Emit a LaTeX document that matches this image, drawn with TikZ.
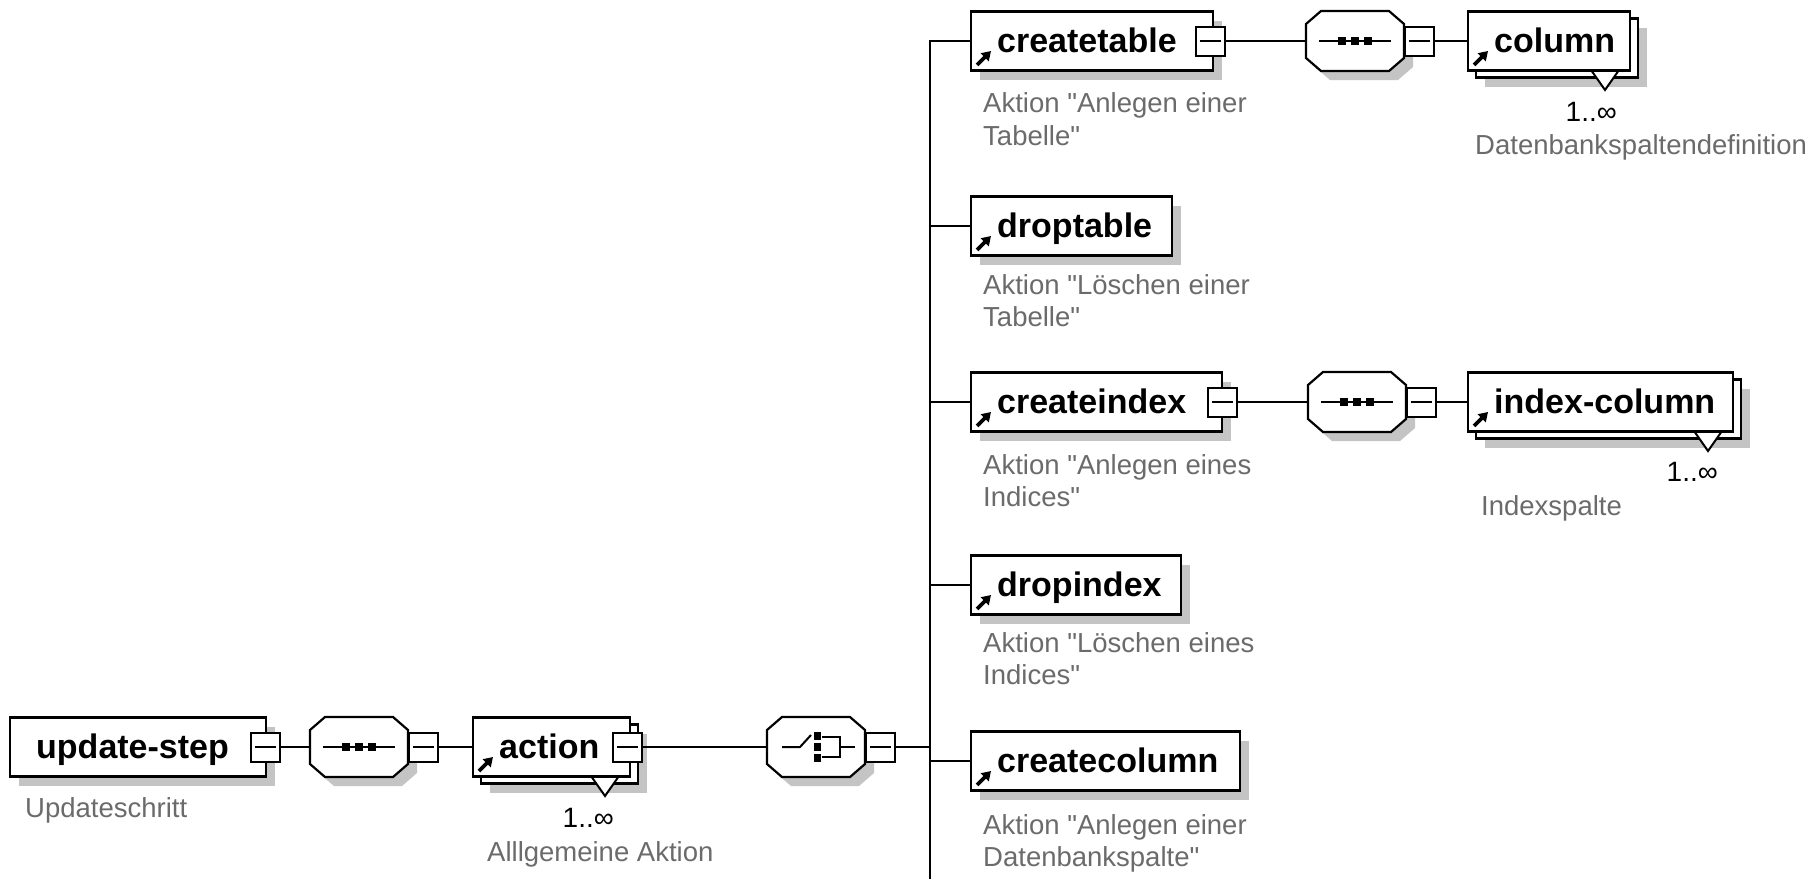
\documentclass[tikz,border=0pt]{standalone}
\usepackage{fontspec}
\setmainfont{Liberation Sans}[Ligatures=TeXOff]
\usetikzlibrary{calc,arrows.meta}
\definecolor{desc}{HTML}{6B6B6B}
\definecolor{shad}{HTML}{C4C4C4}
\newcommand\dq{\char34\relax}
\tikzset{
 elbox/.style={draw=black, line width=2.6pt, fill=white, inner sep=0pt, minimum height=59pt},
 shadowbox/.style={fill=shad, draw=none, inner sep=0pt, minimum height=59pt},
 expbox/.style={draw=black, line width=2pt, fill=white, inner sep=0pt, minimum width=29pt, minimum height=29pt},
 conn/.style={line width=2pt},
 octline/.style={draw=black, line width=2.2pt, fill=white},
 btext/.style={font=\fontsize{34}{40}\selectfont\bfseries, inner sep=0pt, anchor=base west},
 dtext/.style={font=\fontsize{27.5}{32}\selectfont, text=desc, inner sep=0pt, anchor=base west},
 ctext/.style={font=\fontsize{28}{32}\selectfont, text=black, inner sep=0pt, anchor=base east},
 refarrow/.style={line width=3.6pt, -{Triangle[length=9pt,width=11pt]}},
 octbox/.style={inner sep=0pt, minimum width=98pt, minimum height=60pt, draw=none},
}
% element box: name, left, right, cy, text
\newcommand\elemnode[5]{%
 \node[shadowbox, minimum width=#3-#2] at ({(#2+#3)/2+9},#4+9) {};
 \node[elbox, minimum width=#3-#2] (#1) at ({(#2+#3)/2},#4) {};
 \draw[refarrow] (#2+6,#4+24) -- (#2+20,#4+10);
 \node[btext] (#1-t) at (#2+26,#4+11) {#5};
}
% stacked (multiple) element box
\newcommand\multinode[5]{%
 \node[shadowbox, minimum width=#3-#2] at ({(#2+#3)/2+17},#4+16) {};
 \node[elbox, minimum width=#3-#2] (#1-back) at ({(#2+#3)/2+8},#4+7) {};
 \fill[white] (#3-39,#4+29) -- (#3-25,#4+49) -- (#3-11,#4+29) -- cycle;
 \draw[conn] (#3-39,#4+29) -- (#3-25,#4+49) -- (#3-11,#4+29);
 \node[elbox, minimum width=#3-#2] (#1) at ({(#2+#3)/2},#4) {};
 \draw[refarrow] (#2+6,#4+24) -- (#2+20,#4+10);
 \node[btext] (#1-t) at (#2+26,#4+11) {#5};
}
% expander: name, cx, cy
\newcommand\expnode[3]{%
 \node[expbox] (#1) at (#2,#3) {};
 \draw[conn] ($(#1.west)+(5,0)$) -- ($(#1.east)+(-5,0)$);
}
% octagon: name, cx, cy
\newcommand\octnode[3]{%
 \node[octbox] (#1) at (#2,#3) {};
 \fill[shad] (#2-34+9,#3-30+9) -- (#2+34+9,#3-30+9) -- (#2+49+9,#3-17+9) -- (#2+49+9,#3+17+9)
   -- (#2+34+9,#3+30+9) -- (#2-34+9,#3+30+9) -- (#2-49+9,#3+17+9) -- (#2-49+9,#3-17+9) -- cycle;
 \path[octline] (#2-34,#3-30) -- (#2+34,#3-30) -- (#2+49,#3-17) -- (#2+49,#3+17)
   -- (#2+34,#3+30) -- (#2-34,#3+30) -- (#2-49,#3+17) -- (#2-49,#3-17) -- cycle;
}
% sequence icon
\newcommand\seqicon[2]{%
 \draw[conn] (#1-36,#2) -- (#1+36,#2);
 \fill (#1-17,#2-4) rectangle (#1-9,#2+4);
 \fill (#1-4,#2-4) rectangle (#1+4,#2+4);
 \fill (#1+9,#2-4) rectangle (#1+17,#2+4);
}
\begin{document}
\begin{tikzpicture}[x=1pt,y=-1pt]
\fill[white] (0,0) rectangle (1817,878);
\useasboundingbox (0,0) rectangle (1817,878);

% ---------- main row ----------
\node[shadowbox, minimum width=256] at (147,756) {};
\node[elbox, minimum width=256] (updatestep) at (138,747) {};
\node[btext] (updatestep-t) at (36,758) {update-step};
\expnode{usx}{265}{747}

\octnode{seqone}{359}{747}
\seqicon{359}{747}
\expnode{seqonex}{423}{747}

\multinode{action}{473}{630}{747}{action}
\expnode{actionx}{627}{747}

\octnode{choice}{816}{747}
\draw[conn] (782,747) -- (800,747) -- (811,735);
\fill (814,732) rectangle (821,740);
\fill (814,743) rectangle (821,751);
\fill (814,754) rectangle (821,762);
\draw[conn] (822,737) -- (840,737) -- (840,757) -- (822,757);
\draw[conn] (840,747) -- (855,747);
\expnode{choicex}{880}{747}

\draw[conn] (usx.east) -- (seqone.west);
\draw[conn] (seqonex.east) -- (action.west);
\draw[conn] (actionx.east) -- (choice.west);

% ---------- bus ----------
\coordinate (bustop) at (930,41);
\coordinate (busbot) at (930,880);

% ---------- right column ----------
\elemnode{createtable}{971}{1213}{41}{createtable}
\expnode{createtablex}{1210}{41}
\octnode{seqa}{1355}{41}
\seqicon{1355}{41}
\expnode{seqax}{1419}{41}
\multinode{column}{1468}{1630}{41}{column}

\elemnode{droptable}{971}{1172}{226}{droptable}

\elemnode{createindex}{971}{1222}{402}{createindex}
\expnode{createindexx}{1222}{402}
\octnode{seqc}{1357}{402}
\seqicon{1357}{402}
\expnode{seqcx}{1421}{402}
\multinode{indexcolumn}{1468}{1733}{402}{index-column}

\elemnode{dropindex}{971}{1181}{585}{dropindex}

\elemnode{createcolumn}{971}{1240}{761}{createcolumn}

\draw[conn] (busbot) -- (bustop) -- (createtable.west);
\draw[conn] (choicex.east) -- (choicex.east -| bustop);
\draw[conn] (droptable.west -| bustop) -- (droptable.west);
\draw[conn] (createindex.west -| bustop) -- (createindex.west);
\draw[conn] (dropindex.west -| bustop) -- (dropindex.west);
\draw[conn] (createcolumn.west -| bustop) -- (createcolumn.west);
\draw[conn] (createtablex.east) -- (seqa.west);
\draw[conn] (seqax.east) -- (column.west);
\draw[conn] (createindexx.east) -- (seqc.west);
\draw[conn] (seqcx.east) -- (indexcolumn.west);

% ---------- texts ----------
\node[dtext] (d-us) at (25,817) {Updateschritt};
\node[ctext] (m-action) at (614,827) {1..∞};
\node[dtext] (d-action) at (487,861) {Alllgemeine Aktion};

\node[dtext] (d-ct1) at (983,112) {Aktion "Anlegen einer};
\node[dtext] (d-ct2) at (983,145) {Tabelle"};
\node[ctext] (m-column) at (1617,121) {1..∞};
\node[dtext] (d-column) at (1475,154) {Datenbankspaltendefinition};

\node[dtext] (d-dt1) at (983,294) {Aktion "Löschen einer};
\node[dtext] (d-dt2) at (983,326) {Tabelle"};

\node[dtext] (d-ci1) at (983,474) {Aktion "Anlegen eines};
\node[dtext] (d-ci2) at (983,506) {Indices"};
\node[ctext] (m-index) at (1718,481) {1..∞};
\node[dtext] (d-index) at (1481,515) {Indexspalte};

\node[dtext] (d-di1) at (983,652) {Aktion "Löschen eines};
\node[dtext] (d-di2) at (983,684) {Indices"};

\node[dtext] (d-cc1) at (983,834) {Aktion "Anlegen einer};
\node[dtext] (d-cc2) at (983,866) {Datenbankspalte"};
\end{tikzpicture}
\end{document}
